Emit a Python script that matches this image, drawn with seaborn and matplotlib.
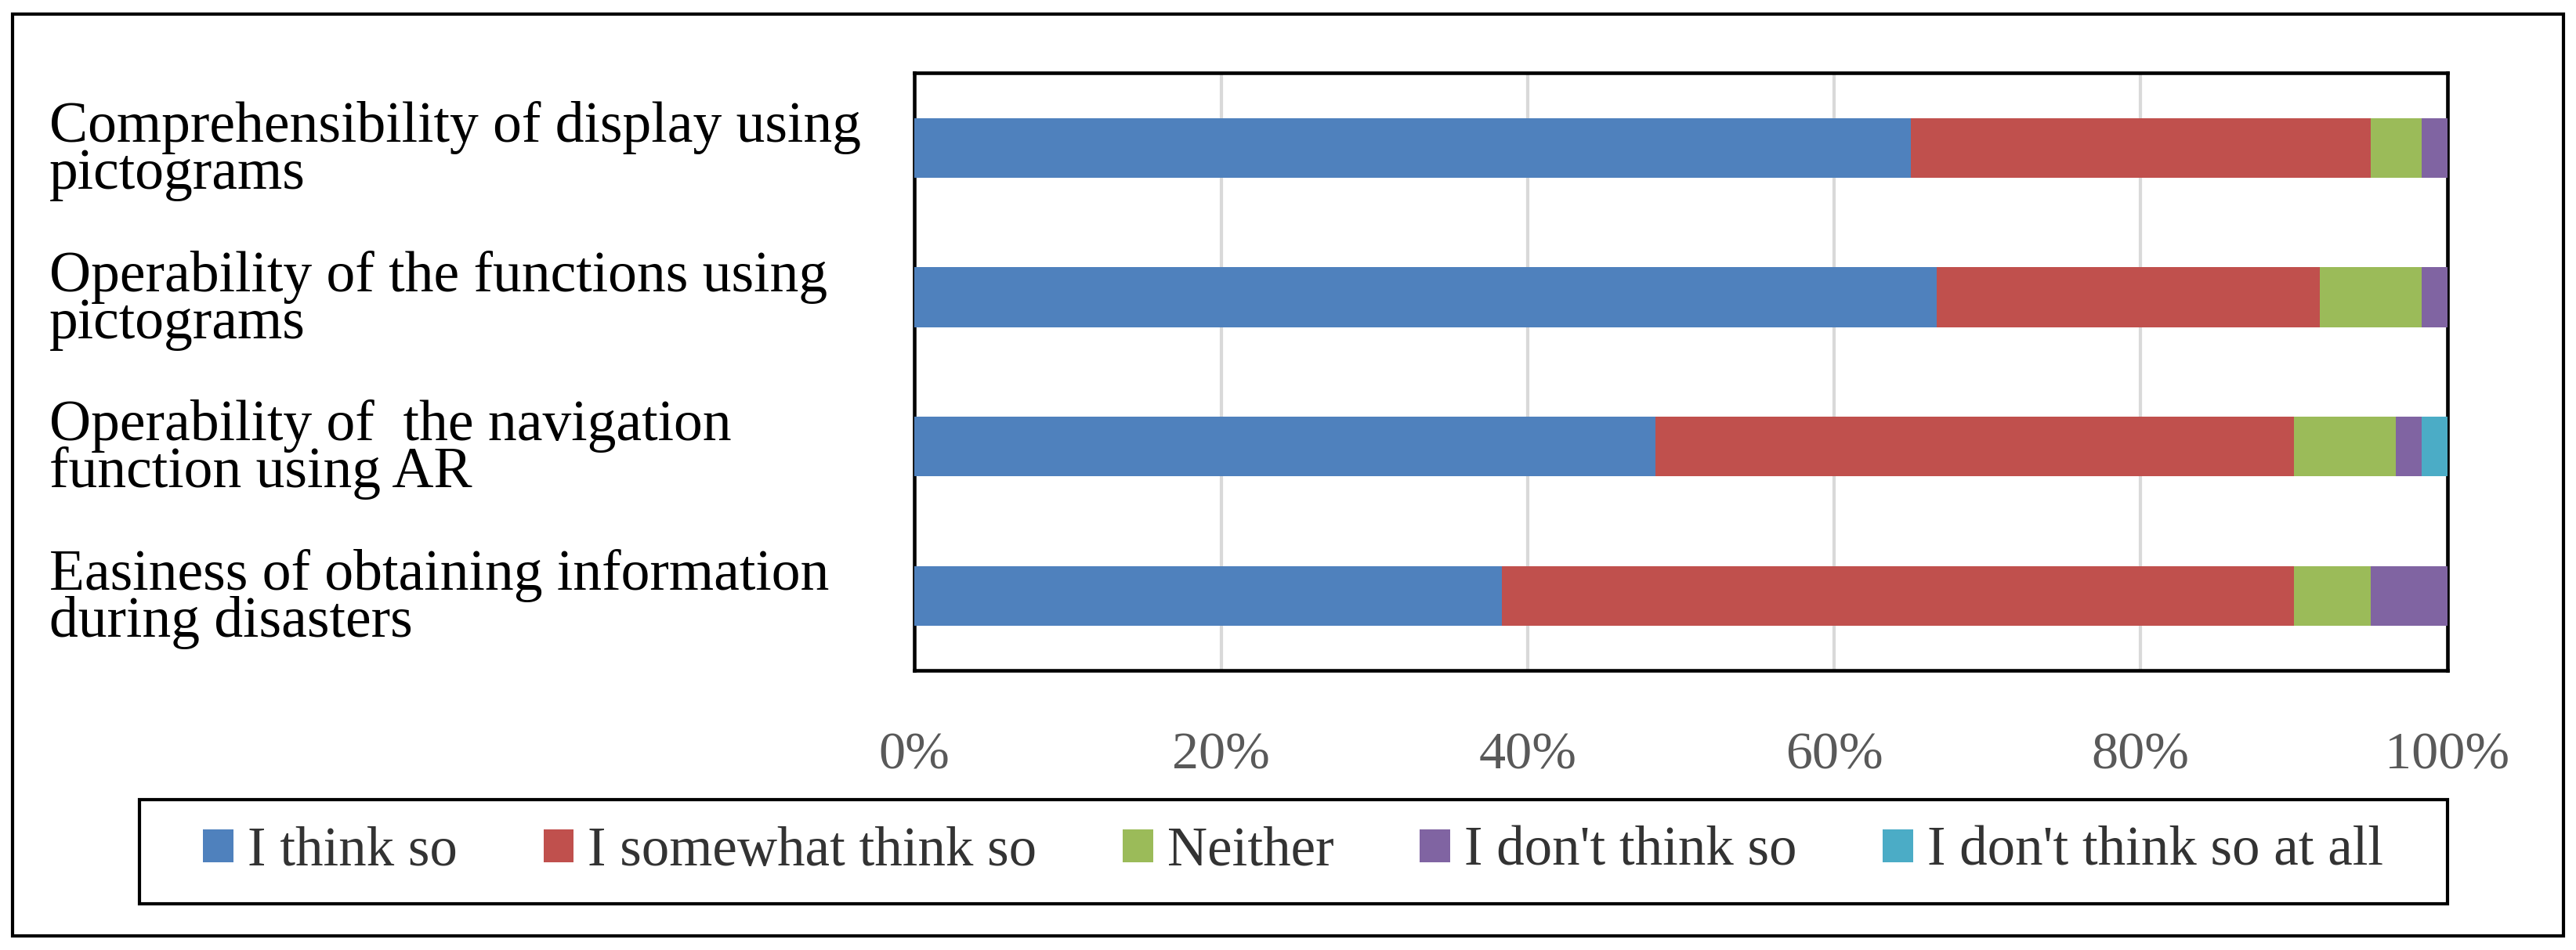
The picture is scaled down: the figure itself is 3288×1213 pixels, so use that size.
import matplotlib
matplotlib.use('Agg')
import matplotlib.pyplot as plt
from matplotlib.patches import Patch, Rectangle
import numpy as np
import pandas as pd
import seaborn as sns

# survey items (top to bottom) and answer categories
questions = [
    "Comprehensibility of display using\npictograms",
    "Operability of the functions using\npictograms",
    "Operability of  the navigation\nfunction using AR",
    "Easiness of obtaining information\nduring disasters",
]
responses = ["I think so", "I somewhat think so", "Neither",
             "I don't think so", "I don't think so at all"]

# share of answers in % (n = 60)
think_so = [65.0, 66.67, 48.33, 38.33]
somewhat = [30.0, 25.0, 41.67, 51.67]
neither = [3.33, 6.67, 6.67, 5.0]
dont_think = [1.67, 1.67, 1.67, 5.0]
dont_at_all = [0.0, 0.0, 1.67, 0.0]

x_ticks = [0, 20, 40, 60, 80, 100]
colors = ["#4F81BD", "#C0504D", "#9BBB59", "#8064A2", "#4BACC6"]


def main():
    sns.set_theme(style="white")
    plt.rcParams['font.family'] = ['Liberation Serif', 'DejaVu Serif']

    series = [think_so, somewhat, neither, dont_think, dont_at_all]
    rows = []
    for i, q in enumerate(questions):
        cum = 0.0
        for r, vals in zip(responses, series):
            cum += vals[i]
            rows.append({"question": q, "response": r, "cum": cum})
    df = pd.DataFrame(rows)

    fig = plt.figure(figsize=(32.88, 12.13), dpi=100)
    ax = fig.add_axes([0.355, 0.294, 0.595, 0.629])

    # stacked bars: draw cumulative totals from the last category backwards
    for r, c in reversed(list(zip(responses, colors))):
        sub = df[df["response"] == r]
        sns.barplot(data=sub, x="cum", y="question", order=questions,
                    color=c, saturation=1, width=0.4, linewidth=0,
                    orient="h", ax=ax, zorder=3)

    ax.set_xlim(0, 100)
    ax.set_xticks(x_ticks)
    ax.set_xticklabels([f"{t}%" for t in x_ticks], color="#595959", fontsize=49)
    ax.set_xlabel("")
    ax.set_ylabel("")
    ax.grid(axis="x", color="#D9D9D9", linewidth=3)
    ax.set_axisbelow(True)
    for s in ax.spines.values():
        s.set_visible(True)
        s.set_color("black")
        s.set_linewidth(3.3)
    ax.tick_params(axis="x", length=0, pad=56)
    ax.tick_params(axis="y", length=0, pad=795)
    for lab in ax.get_yticklabels():
        lab.set_horizontalalignment("left")
        lab.set_fontsize(53)
        lab.set_color("black")
        lab.set_linespacing(0.85)

    # legend inside its own box
    fig.patches.append(Rectangle((0.054, 0.049), 0.896, 0.109, transform=fig.transFigure,
                                 fill=False, edgecolor="black", linewidth=3))
    handles = [Patch(facecolor=c, edgecolor="none", label=r) for r, c in zip(responses, colors)]
    fig.legend(handles=handles, loc="center", bbox_to_anchor=(0.502, 0.1035), ncol=5,
               frameon=False, fontsize=51, handlelength=0.55, handleheight=0.55,
               handletextpad=0.25, columnspacing=1.55, labelcolor="#333333")

    # outer frame
    fig.patches.append(Rectangle((0.005, 0.015), 0.99, 0.97, transform=fig.transFigure,
                                 fill=False, edgecolor="black", linewidth=3))

    fig.savefig("out.png", dpi=100, facecolor="white")
    plt.close(fig)


if __name__ == "__main__":
    main()
